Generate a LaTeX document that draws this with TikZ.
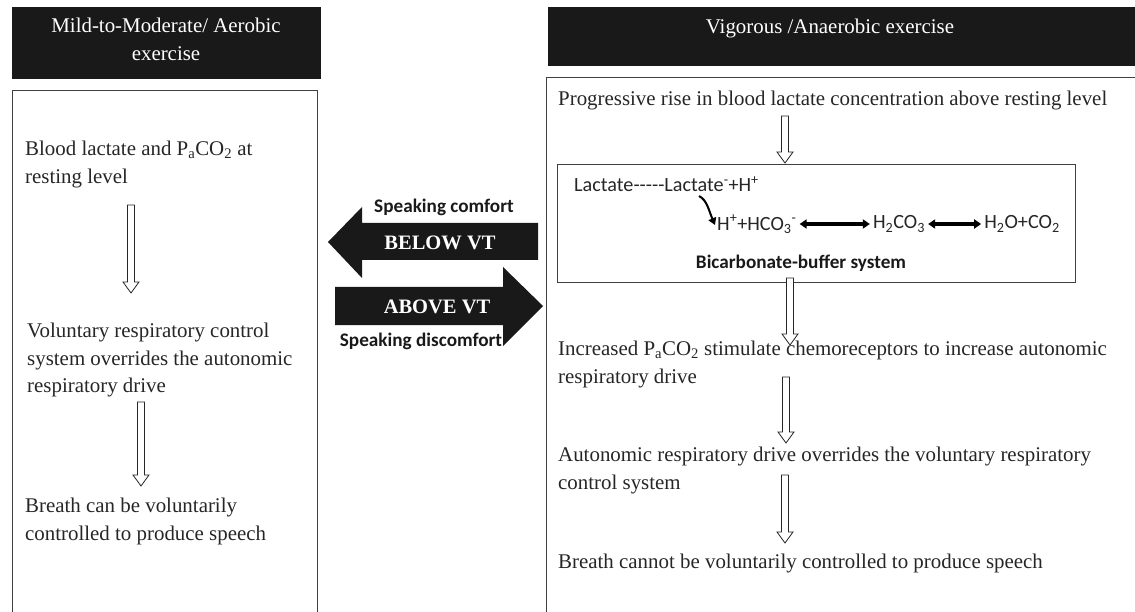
\documentclass[tikz,border=0pt]{standalone}
\usepackage{fontspec}
\setmainfont{Liberation Serif}
\newfontfamily\calibri{Carlito}
\usetikzlibrary{arrows.meta}

% hollow down arrow: x, y of top, y of tip
\newcommand{\hollowdown}[3]{
	\draw[hollow] (#1-3.5,#2) -- (#1+3.5,#2) -- (#1+3.5,#3-11) -- (#1+8,#3-11)
	-- (#1,#3) -- (#1-8,#3-11) -- (#1-3.5,#3-11) -- cycle;
}

\tikzset{
	header/.style={fill=black!90},
	headtxt/.style={text=white, align=center, inner sep=0pt, font=\fontsize{20.9}{28}\selectfont},
	panel/.style={draw=black!75, line width=0.9pt},
	txt/.style={anchor=north west, inner sep=0pt, align=left, text=black!85, font=\fontsize{20.9}{27.5}\selectfont},
	hollow/.style={draw=black!85, fill=white, line width=0.8pt},
	bigarrow/.style={fill=black!90},
	bigtxt/.style={text=white, inner sep=0pt, font=\bfseries\fontsize{20.5}{24}\selectfont},
	sanstxt/.style={inner sep=0pt, text=black!85, font=\calibri\fontsize{20.2}{24}\selectfont},
	sansbold/.style={inner sep=0pt, text=black!90, font=\calibri\bfseries\fontsize{19.2}{23}\selectfont},
	dbl/.style={line width=3.3pt, {Triangle[length=7pt,width=9pt]}-{Triangle[length=7pt,width=9pt]}, shorten <=3pt, shorten >=3pt},
}

\begin{document}
\begin{tikzpicture}[x=1pt, y=-1pt]
	\useasboundingbox (0,0) rectangle (1135,612);
	\clip (0,0) rectangle (1135,612);

	% headers
	\fill[header] (12,7) rectangle (321,79);
	\node[headtxt] (mildhd) at (166,39) {Mild-to-Moderate/ Aerobic\\exercise};
	\fill[header] (548,7) rectangle (1135,66);
	\node[headtxt] (vighd) at (830,29) {Vigorous /Anaerobic exercise};

	% panels
	\draw[panel] (12,90) rectangle (317,620);
	\draw[panel] (546,77) rectangle (1145,620);
	\draw[panel] (557,164) rectangle (1075,282);

	% left column
	\node[txt] (blood) at (25,141) {Blood lactate and P\textsubscript{a}CO\textsubscript{2} at\\resting level};
	\node[txt] (volun) at (27,323) {Voluntary respiratory control\\system overrides the autonomic\\respiratory drive};
	\node[txt] (canbe) at (25,498) {Breath can be voluntarily\\controlled to produce speech};
	\hollowdown{131}{205}{293}
	\hollowdown{141}{402}{486}

	% right column
	\node[txt] (rise) at (558,91) {Progressive rise in blood lactate concentration above resting level};
	\node[txt] (incr) at (558,341) {Increased P\textsubscript{a}CO\textsubscript{2} stimulate chemoreceptors to increase autonomic\\respiratory drive};
	\node[txt] (auto) at (558,447) {Autonomic respiratory drive overrides the voluntary respiratory\\control system};
	\node[txt] (cannot) at (558,554) {Breath cannot be voluntarily controlled to produce speech};
	\hollowdown{785}{116}{163}
	\hollowdown{790}{278}{345}
	\hollowdown{786}{377}{443}
	\hollowdown{785}{475}{543}

	% buffer box
	\node[sanstxt, anchor=west] (lac) at (574,184) {Lactate-----Lactate\textsuperscript{-}+H\textsuperscript{+}};
	\node[sanstxt, anchor=west] (hco) at (717,224) {H\textsuperscript{+}+HCO\textsubscript{3}\textsuperscript{-}};
	\node[sanstxt] (carb) at (899,224) {H\textsubscript{2}CO\textsubscript{3}};
	\node[sanstxt] (water) at (1022,224) {H\textsubscript{2}O+CO\textsubscript{2}};
	\node[sansbold] (bicarb) at (801,263) {Bicarbonate-buffer system};
	\draw[dbl] (hco.east) -- (carb.west);
	\draw[dbl] (carb.east) -- (water.west);
	\draw[line width=2pt, -{Triangle[length=7pt,width=8pt]}] (699,196) .. controls (707,200) and (709,211) .. ([xshift=-2pt,yshift=-1pt]hco.west);

	% below / above VT
	\fill[bigarrow] (538,223) -- (362,223) -- (362,207) -- (328,242) -- (362,278) -- (362,260) -- (538,260) -- cycle;
	\fill[bigarrow] (335,287) -- (503,287) -- (503,267) -- (543,306) -- (503,346) -- (503,325) -- (335,325) -- cycle;
	\node[bigtxt] (belowvt) at (440,243) {BELOW VT};
	\node[bigtxt] (abovevt) at (437,307) {ABOVE VT};
	\node[sansbold] (comfort) at (444,207) {Speaking comfort};
	\node[sansbold] (discomfort) at (421,341) {Speaking discomfort};
\end{tikzpicture}
\end{document}
